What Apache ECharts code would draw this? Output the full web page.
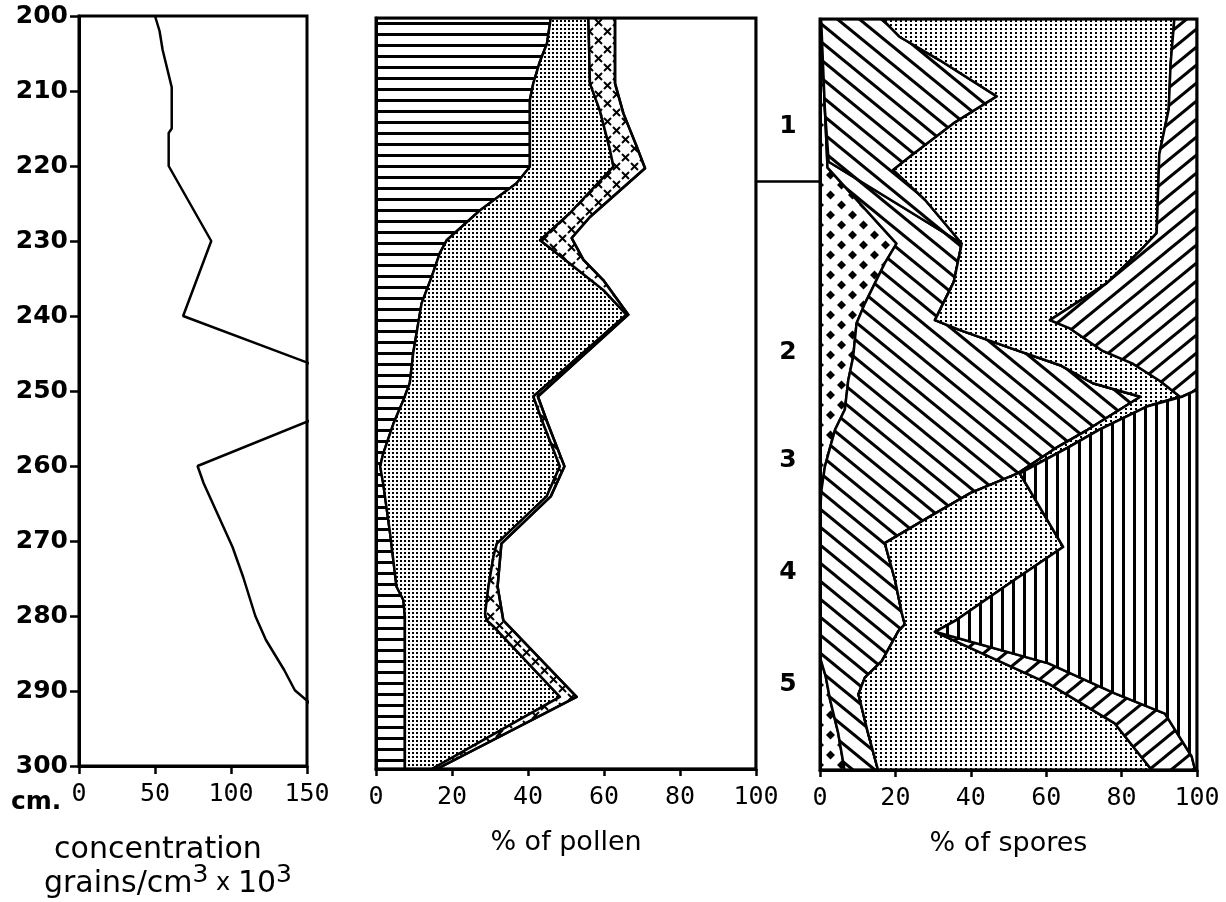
<!DOCTYPE html>
<html><head><meta charset="utf-8">
<script src="https://cdn.jsdelivr.net/npm/echarts@6/dist/echarts.min.js"></script>
<style>html,body{margin:0;padding:0;background:#fff}#c{width:1226px;height:902px}</style>
</head><body><div id="c"></div>
<script>
// ---------- DATA ----------
// depth scale (cm)
const depthMin = 200, depthMax = 300, depthStep = 10;
// concentration curve (grains/cm3 x 10^3)
const concDepths = [200,202,204.5,207,209.5,215,215.6,220,230,240,250,260,262.3,270.8,274.8,280,283.2,287.2,289.9,300];
const concValues = [50,53,55,58,61,61,59,59,87,68.5,200,78,82,101,108,116,123,135,142,200];
// pollen: cumulative % at right edge of each taxon, as [depth, cum%]
const pollenHoriz = [[200,46],[203.4,45],[206,43],[208.7,41.4],[210.9,40.5],[219.8,40.5],[222,37],[225.6,27.4],[229.6,18.6],[231.3,16.8],[234.4,14.7],[238,12],[244.6,9.8],[248.6,8.9],[250.9,7.2],[254,4.6],[258,1.9],[259.7,1.1],[262,1.9],[268.6,3.7],[275.7,5.4],[277.5,7.2],[279.7,7.6],[300,7.6]];
const pollenDots = [[200,55.9],[208.7,56.3],[212.3,58.9],[217.6,61.6],[219.8,62.5],[226,51],[229.6,43.2],[232.7,51],[236.2,59.8],[239.5,65.9],[250.4,41.4],[254,44],[259.7,48.4],[263.7,44.9],[270,31.8],[271.7,30.9],[275.7,29.6],[279.3,28.7],[280.2,29.1],[281,30.9],[290.4,48.4],[300,14.7]];
const pollenCross = [[200,62.9],[208.7,62.9],[212.7,65.1],[217.1,68.6],[220,70.8],[226.5,56.3],[229.3,51.5],[232.2,54.6],[234.9,59.8],[239.5,66.4],[250.4,42.6],[254,45.2],[259.7,49.6],[263.7,46],[270,33],[275.7,32],[280.2,33.5],[290.4,52.8],[300,16]];
// spores: cumulative % at right edge of each taxon, as [depth, cum%]
const sporeDiamond = [[200,0.3],[212,1.3],[219.8,2],[229.9,20.3],[232.5,17.2],[237.9,11.9],[240.5,9.7],[245,8.8],[248.1,7.5],[252,6.6],[254.7,4],[257,2.7],[259.6,1.3],[262.7,0.4],[265.8,0],[285,0],[287.5,1.5],[290.7,2.7],[295,4.8],[300,6.5]];
const sporeBackAUpper = [[200,0.3],[212,1.3],[219,2.3],[229.9,37.6]];
const sporeBackB = [[200,16.5],[202.4,21.2],[205.5,31.8],[210.3,46.9],[213.9,35.4],[218.3,23.9],[220.1,19.4],[224.1,27.9],[229.9,37.6],[235,35.5],[240.1,30.5],[241.4,37],[243.8,50.4],[246.1,63.7],[248.5,72.4],[250.3,85],[254.7,71],[257,63],[260.5,52.5],[263.1,40],[266.3,29],[269.8,17.2],[274.7,19.9],[279.1,21.7],[280.6,22.5],[281.5,20.8],[285.5,16.4],[287.7,11.9],[289.9,10.2],[295,12.7],[300,15.4]];
const sporeDots = [[200,94],[206,93],[212,92.5],[218,90],[228.5,89.3],[230.8,85],[235.2,76],[240.1,61],[241.2,66.3],[244.2,75],[245.9,83],[248.2,90.2],[250.3,95.5],[251.6,86.7],[254.7,74],[257,66],[260.5,53],[265,58.3],[270.3,64.5],[275,50.7],[280,36.3],[281.6,30.5],[288.5,60.6],[293.8,78.2],[300,88]];
const sporeSlash = [[200,100],[249.4,100],[250.3,96],[251.6,86.7],[254.7,74],[257,66],[260.5,53],[265,58.3],[270.3,64.5],[275,50.7],[280,36.3],[281.6,30.5],[285.8,60.6],[289.8,78.2],[292.5,91.5],[298.2,98.6],[300,99.5]];
// zones
const zoneNames = ['1','2','3','4','5'];
const zoneLabelDepths = [214.5,244.6,258.9,273.8,288.8];
const zoneBoundaries = [221.7];
// axis tick settings
const concTicks = {min:0, max:150, interval:50};
const pctTicks = {min:0, max:100, interval:20};

// ---------- PATTERNS ----------
function makeTile(w, h, draw) {
  const c = document.createElement('canvas'); c.width = w; c.height = h;
  const g = c.getContext('2d');
  g.fillStyle = '#fff'; g.fillRect(0, 0, w, h);
  g.fillStyle = '#000'; g.strokeStyle = '#000';
  draw(g, w, h);
  return { image: c, repeat: 'repeat' };
}
const patHoriz = makeTile(8, 11, (g, w) => g.fillRect(0, 0, w, 3));
const patDots = makeTile(4, 4, g => g.fillRect(0, 0, 2, 2));
const patSDots = makeTile(5, 4, g => g.fillRect(0, 0, 2, 2));
const patVert = makeTile(11, 8, (g, w, h) => g.fillRect(0, 0, 3, h));
const patCross = makeTile(18, 18, g => {
  g.lineWidth = 2;
  [[4.5,4.5],[13.5,13.5]].forEach(([x,y]) => { g.beginPath(); g.moveTo(x-3.5,y-3.5); g.lineTo(x+3.5,y+3.5); g.moveTo(x+3.5,y-3.5); g.lineTo(x-3.5,y+3.5); g.stroke(); });
});
const patDiamond = makeTile(22, 20, g => {
  [[5.5,5],[16.5,15]].forEach(([x,y]) => { g.beginPath(); g.moveTo(x,y-4.5); g.lineTo(x+4.5,y); g.lineTo(x,y+4.5); g.lineTo(x-4.5,y); g.closePath(); g.fill(); });
});
const patBack = makeTile(22, 18, (g, w, h) => {
  g.lineWidth = 3;
  [-w, 0, w].forEach(dx => { g.beginPath(); g.moveTo(dx - w, -h); g.lineTo(dx + 2*w, 2*h); g.stroke(); });
});
const patFwd = makeTile(22, 18, (g, w, h) => {
  g.lineWidth = 3;
  [-w, 0, w].forEach(dx => { g.beginPath(); g.moveTo(dx - w, 2*h); g.lineTo(dx + 2*w, -h); g.stroke(); });
});

// ---------- BANDS ----------
const edgeZero = [[depthMin,0],[depthMax,0]];
const edgeFull = [[depthMin,100],[depthMax,100]];
const sporeBackA = sporeBackAUpper.concat(sporeBackB.filter(p => p[0] > 229.9));
const pollenBands = [
  {left: edgeZero, right: pollenHoriz, fill: patHoriz},
  {left: pollenHoriz, right: pollenDots, fill: patDots},
  {left: pollenDots, right: pollenCross, fill: patCross},
  {left: pollenCross, right: edgeFull, fill: 'none'}
];
const sporeBands = [
  {left: edgeZero, right: sporeDiamond, fill: patDiamond},
  {left: sporeDiamond, right: sporeBackA, fill: patBack},
  {left: sporeBackA, right: sporeBackB, fill: patBack},
  {left: sporeBackB, right: sporeDots, fill: patSDots},
  {left: sporeDots, right: sporeSlash, fill: patFwd},
  {left: sporeSlash, right: edgeFull, fill: patVert}
];
function bandRenderer(bands) {
  return function (params, api) {
    const b = bands[params.dataIndex];
    const pts = [];
    b.left.forEach(([d, v]) => pts.push(api.coord([v, d])));
    b.right.slice().reverse().forEach(([d, v]) => pts.push(api.coord([v, d])));
    return { type: 'polygon', shape: { points: pts },
      style: { fill: b.fill, stroke: '#000', lineWidth: 2.5, lineJoin: 'round' } };
  };
}

// ---------- CHART ----------
const numFont = 'DejaVu Sans';
const monoFont = 'DejaVu Sans Mono';
const blackLine = { show: true, lineStyle: { color: '#000', width: 3 }, onZero: false };
function pctX(grid, name) {
  return { gridIndex: grid, type: 'value', min: pctTicks.min, max: pctTicks.max, interval: pctTicks.interval,
    position: 'bottom', z: 10, axisLine: blackLine, splitLine: { show: false },
    axisTick: { show: true, length: 7, lineStyle: { color: '#000', width: 2.5 } },
    axisLabel: { fontFamily: monoFont, fontSize: 25, color: '#000', margin: 16 },
    name: name, nameLocation: 'middle', nameGap: 60,
    nameTextStyle: { fontFamily: numFont, fontSize: 27, color: '#000' } };
}
function depthY(grid) {
  return { gridIndex: grid, type: 'value', min: depthMin, max: depthMax, interval: depthStep, inverse: true, z: 10,
    axisLine: blackLine, axisTick: { show: false }, axisLabel: { show: false }, splitLine: { show: false } };
}
const chart = echarts.init(document.getElementById('c'), null, { renderer: 'canvas' });
chart.setOption({
  animation: false,
  backgroundColor: '#fff',
  grid: [
    { left: 79, top: 16, width: 228, height: 750, show: true, borderColor: '#000', borderWidth: 3, z: 10 },
    { left: 376, top: 18, width: 380, height: 751, show: true, borderColor: '#000', borderWidth: 3, z: 10 },
    { left: 820, top: 19, width: 377, height: 751, show: true, borderColor: '#000', borderWidth: 3, z: 10 },
    { left: 756, top: 18, width: 64, height: 751, show: false }
  ],
  xAxis: [
    { gridIndex: 0, type: 'value', min: concTicks.min, max: concTicks.max, interval: concTicks.interval,
      position: 'bottom', z: 10, axisLine: blackLine, splitLine: { show: false },
      axisTick: { show: true, length: 8, lineStyle: { color: '#000', width: 2.5 } },
      axisLabel: { fontFamily: monoFont, fontSize: 25, color: '#000', margin: 16 } },
    pctX(1, '% of pollen'),
    pctX(2, '% of spores'),
    { gridIndex: 3, type: 'value', min: 0, max: 1, show: false }
  ],
  yAxis: [
    { gridIndex: 0, type: 'value', min: depthMin, max: depthMax, interval: depthStep, inverse: true, z: 10,
      axisLine: blackLine, splitLine: { show: false },
      axisTick: { show: true, length: 9, lineStyle: { color: '#000', width: 2.5 } },
      axisLabel: { fontFamily: numFont, fontWeight: 'bold', fontSize: 25, color: '#000', margin: 11 } },
    depthY(1), depthY(2),
    { gridIndex: 3, type: 'value', min: depthMin, max: depthMax, inverse: true, show: false }
  ],
  graphic: [
    { type: 'text', left: 11, top: 790, style: { text: 'cm.', font: 'bold 25px "DejaVu Sans"', fill: '#000' } },
    { type: 'text', x: 158, y: 850, style: { text: 'concentration', font: '30px "DejaVu Sans"', fill: '#000',
      align: 'center', textAlign: 'center', verticalAlign: 'middle', textVerticalAlign: 'middle' } },
    { type: 'text', x: 168, y: 884, style: {
      text: '{a|grains/cm}{s|3}{x| x }{a|10}{s|3}', fill: '#000',
      align: 'center', textAlign: 'center', verticalAlign: 'middle', textVerticalAlign: 'middle',
      rich: {
        a: { fontFamily: numFont, fontSize: 30, fill: '#000', color: '#000' },
        x: { fontFamily: numFont, fontSize: 24, fill: '#000', color: '#000' },
        s: { fontFamily: numFont, fontSize: 25, fill: '#000', color: '#000', verticalAlign: 'top', padding: [0, 0, 18, 0] }
      } } }
  ],
  series: [
    { type: 'line', xAxisIndex: 0, yAxisIndex: 0, showSymbol: false, symbol: 'none', clip: true,
      lineStyle: { color: '#000', width: 2.5 },
      data: concDepths.map((d, i) => [concValues[i], d]) },
    { type: 'custom', xAxisIndex: 1, yAxisIndex: 1, clip: true, silent: true,
      renderItem: bandRenderer(pollenBands),
      data: pollenBands.map(() => [0, depthMin]) },
    { type: 'custom', xAxisIndex: 2, yAxisIndex: 2, clip: true, silent: true,
      renderItem: bandRenderer(sporeBands),
      data: sporeBands.map(() => [0, depthMin]) },
    { type: 'custom', xAxisIndex: 3, yAxisIndex: 3, silent: true,
      renderItem: (params, api) => {
        const pt = api.coord([api.value(0), api.value(1)]);
        return { type: 'text', x: pt[0], y: pt[1], style: {
          text: zoneNames[params.dataIndex], font: 'bold 25px "DejaVu Sans"', fill: '#000',
          align: 'center', verticalAlign: 'middle' } };
      },
      data: zoneLabelDepths.map(d => [0.5, d]),
      markLine: { silent: true, symbol: 'none', label: { show: false },
        lineStyle: { color: '#000', width: 2.5, type: 'solid' },
        data: zoneBoundaries.map(d => ({ yAxis: d })) } }
  ]
});
</script></body></html>
